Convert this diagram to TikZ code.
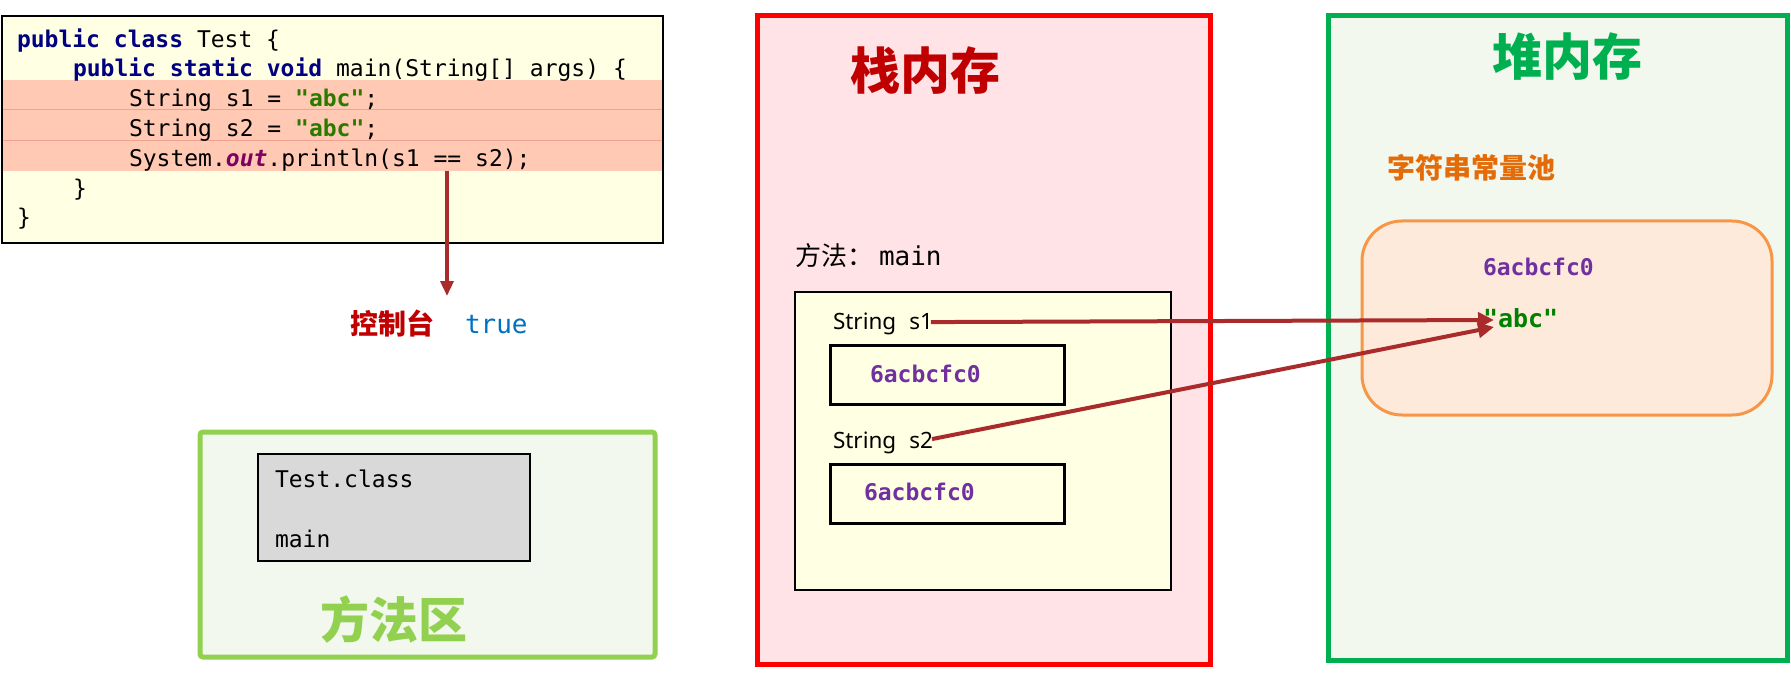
\documentclass[tikz,border=0pt]{standalone}
\usepackage{fontspec}
\setmainfont{Noto Sans}
\setmonofont{DejaVu Sans Mono}
\newfontfamily\cjk{Noto Sans CJK SC}
\usetikzlibrary{arrows.meta,calc}
\definecolor{codebg}{HTML}{FFFFE3}
\definecolor{hlbg}{HTML}{FFC9B4}
\definecolor{hlline}{HTML}{F2A090}
\definecolor{kwc}{HTML}{000080}
\definecolor{strc}{HTML}{2A7A00}
\definecolor{outc}{HTML}{7F0060}
\definecolor{arrowc}{HTML}{AA2B2B}
\definecolor{consred}{HTML}{C00000}
\definecolor{trueblue}{HTML}{0070C0}
\definecolor{mgreen}{HTML}{92D050}
\definecolor{lgreen}{HTML}{F3F8EE}
\definecolor{graybox}{HTML}{D9D9D9}
\definecolor{stackred}{HTML}{FF0000}
\definecolor{stackbg}{HTML}{FFE3E6}
\definecolor{frameyel}{HTML}{FFFFE3}
\definecolor{addrc}{HTML}{7030A0}
\definecolor{heapgreen}{HTML}{00B050}
\definecolor{poolorange}{HTML}{E36C09}
\definecolor{poolborder}{HTML}{F79646}
\definecolor{poolbg}{HTML}{FDEADA}
\definecolor{abcgreen}{HTML}{008000}
\newcommand\jkw[1]{\textcolor{kwc}{\bfseries #1}}
\newcommand\jstr[1]{\textcolor{strc}{\bfseries #1}}
\tikzset{
  codefont/.style={font=\fontsize{23}{27}\selectfont\ttfamily},
  mtxt/.style={inner sep=0pt, outer sep=0pt, anchor=mid west, yshift=-4.5pt},
  ctxt/.style={inner sep=0pt, outer sep=0pt, anchor=west},
  region/.style={line width=5pt, anchor=north west, inner sep=0pt, outer sep=0pt},
  framebox/.style={draw=black, anchor=north west, inner sep=0pt, outer sep=0pt},
  addr/.style={mtxt, text=addrc, font=\fontsize{23}{27}\selectfont\ttfamily\bfseries},
  strlabel/.style={mtxt, font=\fontsize{22.5}{26}\selectfont},
  ref/.style={draw=arrowc, line width=4pt, -{Triangle[length=16pt,width=15pt]}}
}
\begin{document}
\begin{tikzpicture}[x=1pt,y=-1pt]
\useasboundingbox (0,0) rectangle (1791,679);

% ---------- code box ----------
\node[anchor=north west, fill=codebg, minimum width=661, minimum height=227, inner sep=0pt, outer sep=0pt] (code) at (2,16) {};
\node[anchor=north west, fill=hlbg, minimum width=659, minimum height=91, inner sep=0pt, outer sep=0pt] (hl) at (3,80) {};
\draw[hlline, line width=1pt] ($(hl.north west)+(0,30)$) -- ($(hl.north east)+(0,30)$);
\draw[hlline, line width=1pt] ($(hl.north west)+(0,61)$) -- ($(hl.north east)+(0,61)$);
\draw[line width=2pt] (code.north west) rectangle (code.south east);

\node[mtxt, codefont] (l1) at (17,40) {\jkw{public class} Test \{};
\node[mtxt, codefont] (l2) at (73,69.8) {\jkw{public static void} main(String[] args) \{};
\node[mtxt, codefont] (l3) at (129,99.6) {String s1 = \jstr{"abc"};};
\node[mtxt, codefont] (l4) at (129,129.4) {String s2 = \jstr{"abc"};};
\node[mtxt, codefont] (l5) at (129,159.2) {System.\textcolor{outc}{\bfseries\itshape out}.println(s1 == s2);};
\node[mtxt, codefont] (l6) at (73,189) {\}};
\node[mtxt, codefont] (l7) at (17,218.8) {\}};

\coordinate (cstart) at (447,171);
\coordinate (ctip) at (447,296);
\draw[ref, line width=3.5pt, -{Triangle[length=15pt,width=13pt]}] (cstart) -- (ctip);

\node[ctxt, text=consred, font=\fontsize{28}{32}\selectfont\cjk\bfseries] (console) at (350,324) {控制台};
\node[mtxt, text=trueblue, font=\fontsize{26}{30}\selectfont\ttfamily] (true) at (465,326) {true};

% ---------- method area ----------
\node[region, draw=mgreen, fill=lgreen, rounded corners=3pt, minimum width=455, minimum height=225] (marea) at (200,432) {};
\node[framebox, line width=2pt, fill=graybox, minimum width=272, minimum height=107] (cls) at (258,454) {};
\node[mtxt, codefont] (tc) at (275,480) {Test.class};
\node[mtxt, codefont] (mm) at (275,540) {main};
\node[ctxt, text=mgreen, font=\fontsize{49}{55}\selectfont\cjk\bfseries] (matitle) at (320,620) {方法区};

% ---------- stack ----------
\node[region, draw=stackred, fill=stackbg, minimum width=453, minimum height=648] (stack) at (757,16) {};
\node[ctxt, text=consred, font=\fontsize{50}{56}\selectfont\cjk\bfseries] (stitle) at (850,71) {栈内存};
\node[ctxt, font=\fontsize{26}{30}\selectfont] (meth) at (795,256) {{\cjk 方法：}\hspace{6pt}{\fontsize{26}{30}\selectfont\ttfamily main}};
\node[framebox, line width=1.5pt, fill=frameyel, minimum width=376, minimum height=298] (frm) at (795,292) {};
\node[strlabel] (s1) at (833,322) {String\hspace{13pt}s1};
\node[framebox, line width=3pt, fill=frameyel, minimum width=234, minimum height=59] (b1) at (830,345) {};
\node[addr] (a1) at (870,375) {6acbcfc0};
\node[strlabel] (s2) at (833,441) {String\hspace{13pt}s2};
\node[framebox, line width=3pt, fill=frameyel, minimum width=234, minimum height=59] (b2) at (830,464) {};
\node[addr] (a2) at (864,493) {6acbcfc0};

% ---------- heap ----------
\node[region, draw=heapgreen, fill=lgreen, minimum width=459, minimum height=644] (heap) at (1328,16) {};
\node[ctxt, text=heapgreen, font=\fontsize{50}{56}\selectfont\cjk\bfseries] (htitle) at (1492,57) {堆内存};
\node[ctxt, text=poolorange, font=\fontsize{28}{32}\selectfont\cjk\bfseries] (ptitle) at (1387,168) {字符串常量池};
\node[region, line width=3pt, draw=poolborder, fill=poolbg, rounded corners=40pt, minimum width=410, minimum height=194] (pool) at (1362,221) {};
\node[addr] (ha) at (1483,268) {6acbcfc0};
\node[mtxt, text=abcgreen, font=\fontsize{25}{30}\selectfont\ttfamily\bfseries] (abc) at (1483,320) {"abc"};

% ---------- references ----------
\coordinate (t1) at (1494,320);
\coordinate (t2) at (1494,327);
\draw[ref] ($(s1.east)+(-2,-1.5)$) -- (t1);
\draw[ref] ($(s2.east)+(-1,-3.5)$) -- (t2);
\end{tikzpicture}
\end{document}
